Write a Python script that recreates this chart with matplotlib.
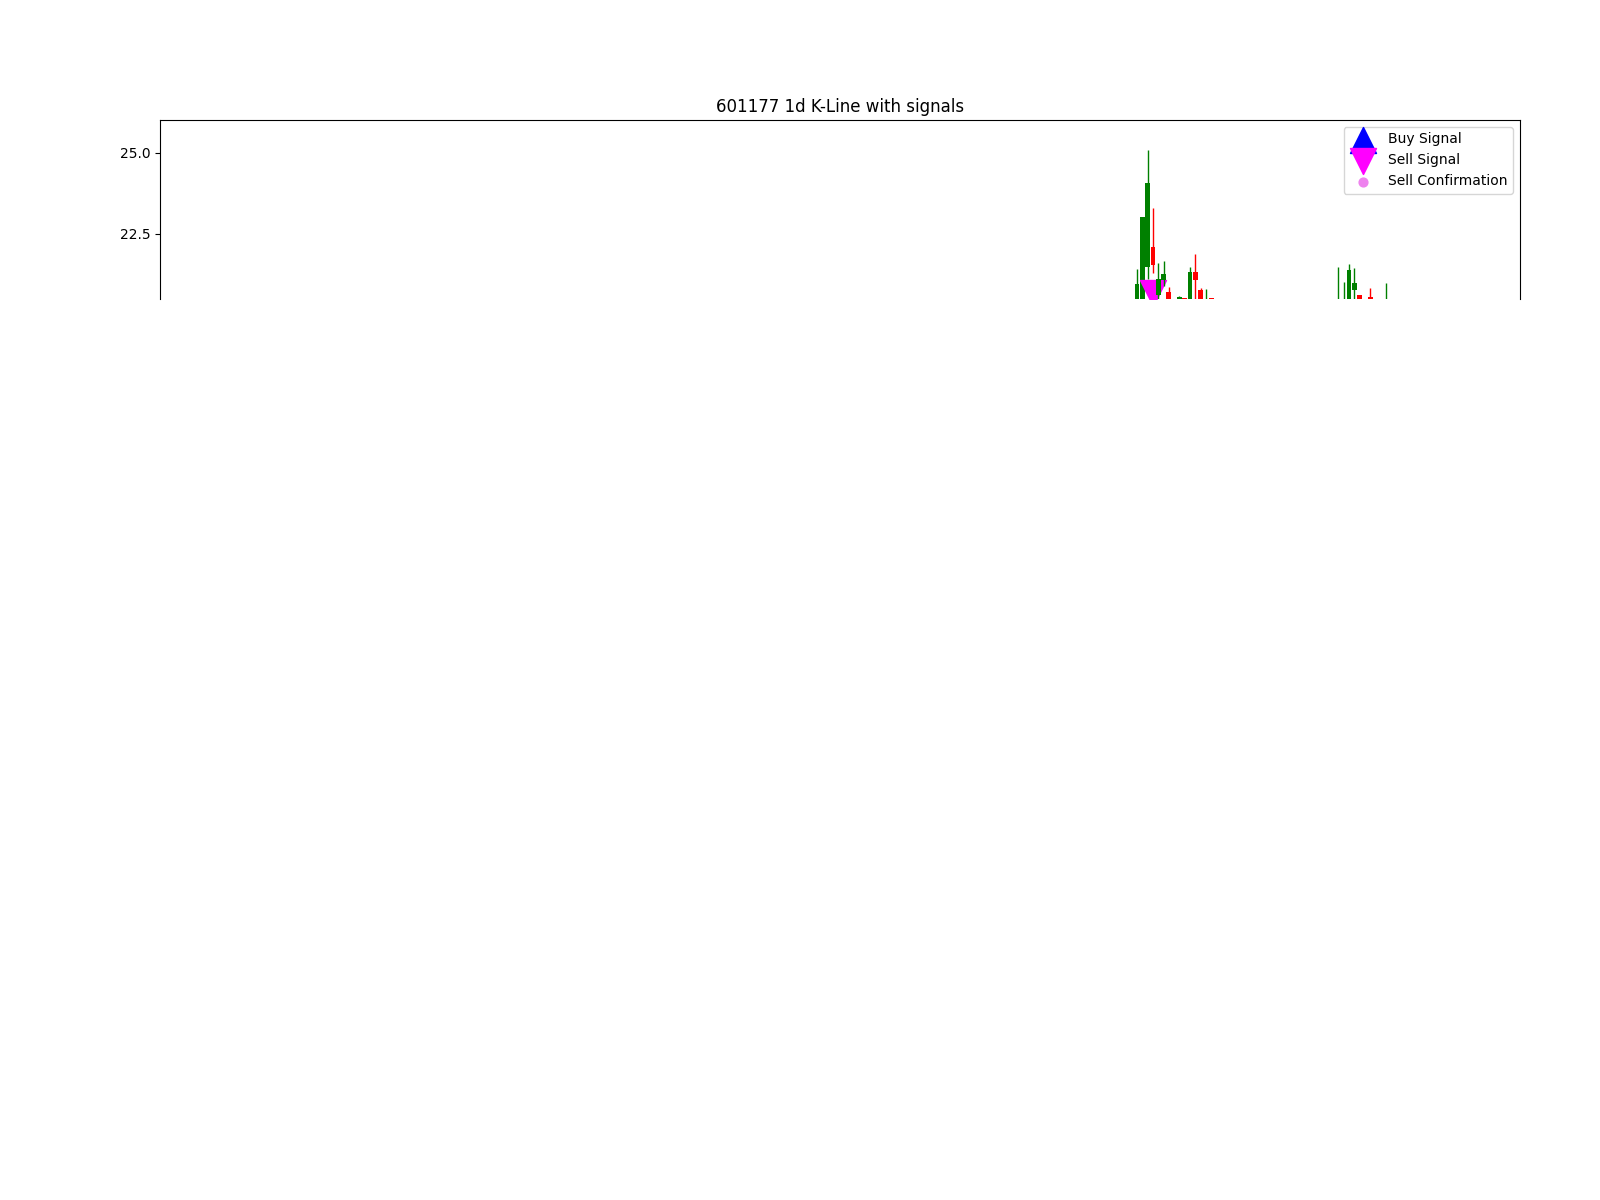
import matplotlib
matplotlib.use("Agg")
import matplotlib.pyplot as plt
from matplotlib.ticker import MultipleLocator

# ---- data (trading-day index, OHLC) ----
day_index = [173, 174, 175, 176, 177, 178, 179, 181, 182, 183, 184, 185, 186, 187,
             211, 212, 213, 214, 215, 217, 220]
open_px = [20.30, 20.35, 21.47, 22.09, 20.62, 21.08, 20.73, 20.30, 20.53, 20.30, 21.34, 20.78, 20.20, 20.53,
           20.00, 20.10, 20.20, 20.78, 20.62, 20.57, 20.20]
close_px = [20.95, 23.01, 24.06, 21.55, 21.11, 21.27, 20.30, 20.57, 20.30, 21.34, 21.08, 20.40, 20.45, 20.30,
            20.30, 20.40, 21.39, 20.98, 20.30, 20.30, 20.45]
high_px = [21.43, 23.03, 25.08, 23.29, 21.62, 21.68, 20.88, 20.58, 20.53, 21.49, 21.88, 20.83, 20.81, 20.53,
           21.49, 21.03, 21.58, 21.44, 20.63, 20.85, 20.98]
low_px = [20.10, 20.20, 21.12, 21.30, 20.40, 20.90, 20.10, 20.20, 20.10, 20.10, 20.40, 20.20, 20.00, 20.10,
          19.90, 19.90, 20.00, 20.40, 20.10, 20.10, 20.00]

buy_idx, buy_price = [], []
sell_idx = [176]
sell_price = [20.68]
confirm_idx, confirm_price = [], []

title = "601177 1d K-Line with signals"

fig = plt.figure(figsize=(16, 12), dpi=100)
ax = fig.add_axes([0.1, 0.7508, 0.85, 0.1492])

z = 2.0
for x, o, c, h, l in zip(day_index, open_px, close_px, high_px, low_px):
    col = "green" if c >= o else "red"
    ax.vlines(x, l, h, color=col, linewidth=1.0, zorder=z)
    ax.bar(x, c - o, bottom=o, width=0.9, color=col, linewidth=0, zorder=z + 0.1)
    z += 1
    if x in sell_idx:
        k = sell_idx.index(x)
        ax.scatter([x], [sell_price[k]], marker="v", color="magenta", s=350, zorder=z)
        z += 1

buy_h = ax.scatter(buy_idx, buy_price, marker="^", color="blue", s=350, label="Buy Signal", zorder=z)
sell_h = ax.scatter([], [], marker="v", color="magenta", s=350, label="Sell Signal")
conf_h = ax.scatter(confirm_idx, confirm_price, marker="o", color="violet", s=40,
                    label="Sell Confirmation", zorder=z)

ax.set_xlim(-11.34, 245.26)
ax.set_ylim(20.5, 26.0)
ax.yaxis.set_major_locator(MultipleLocator(2.5))
ax.spines["bottom"].set_visible(False)
ax.tick_params(axis="x", bottom=False, labelbottom=False)
ax.set_title(title)
ax.legend(handles=[buy_h, sell_h, conf_h], loc="upper right")

fig.savefig("out.png", dpi=100)
